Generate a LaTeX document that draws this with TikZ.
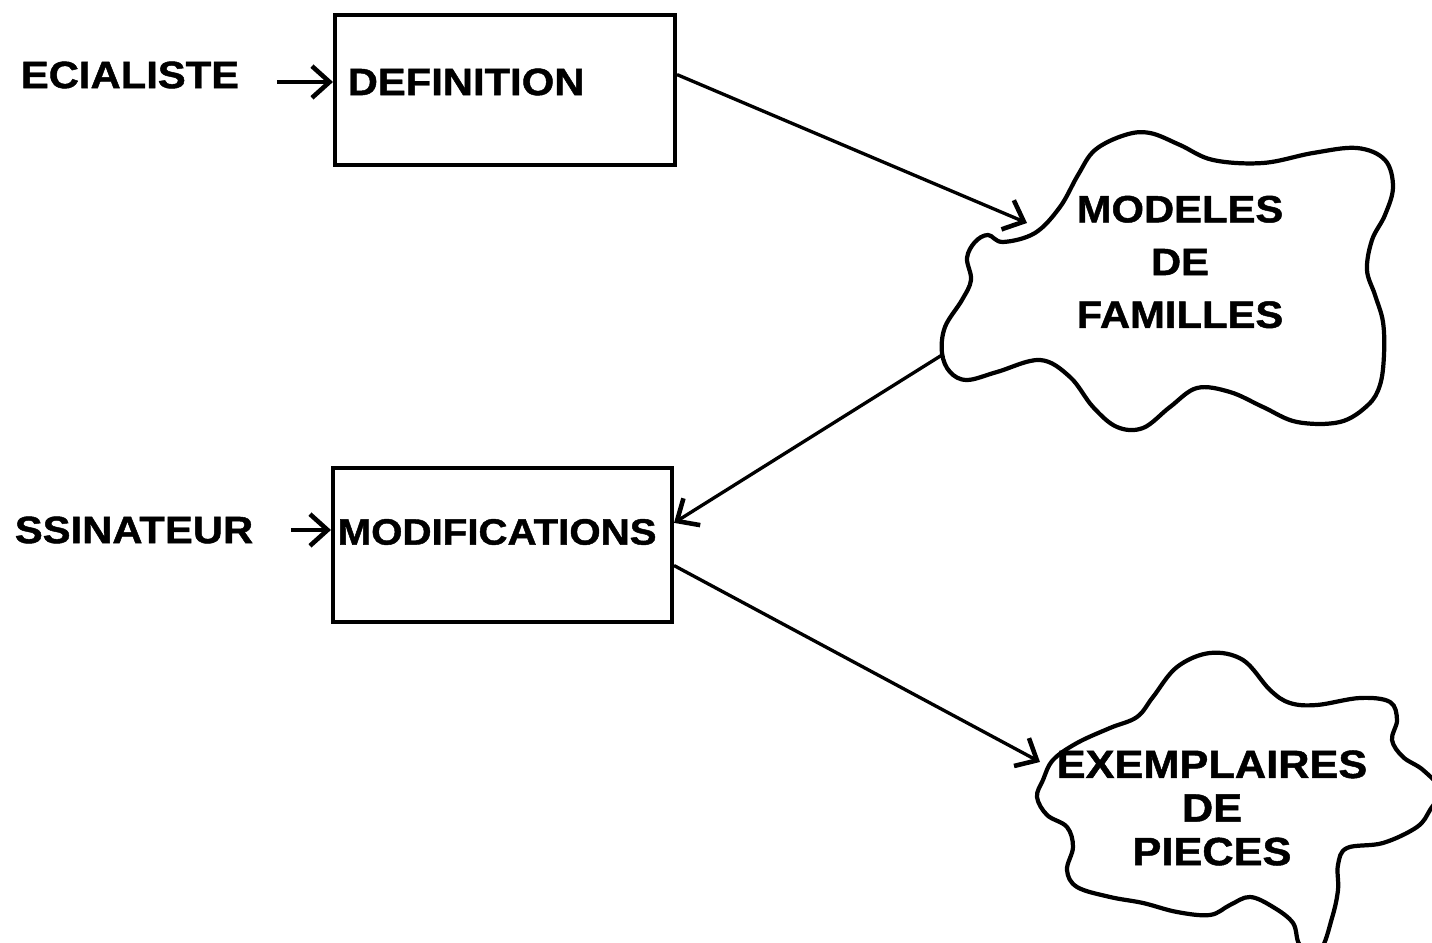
\documentclass[tikz,border=0pt]{standalone}
\usepackage{fontspec}
\setmainfont{Liberation Sans}[FakeStretch=1.1, BoldFeatures={FakeBold=1.2}]
\usetikzlibrary{arrows.meta, positioning, calc}

\begin{document}
\begin{tikzpicture}[
    x=0.01cm, y=-0.01cm,
    box/.style={rectangle, draw=black, line width=1.1pt, minimum width=3.4cm, minimum height=1.5cm},
    word/.style={inner sep=0pt, font=\fontsize{10.8}{12}\selectfont\bfseries},
    blob/.style={line width=1.2pt, line join=round},
    arrow/.style={-{Straight Barb[length=5pt, width=9pt, line width=1.3pt]}, line width=0.95pt}
]
\useasboundingbox (0,0) rectangle (1432,943);
\clip (0,0) rectangle (1432,943);

% boxes
\node[box] (def) at (505,90) {};
\node[box, minimum width=3.39cm, minimum height=1.54cm] (mod) at (502.5,545) {};
\node[word, anchor=west] (deflbl) at (347,82) {DEFINITION};
\node[word, anchor=west, font=\fontsize{10.4}{12}\selectfont\bfseries] (modlbl) at (337,532) {MODIFICATIONS};

% actors
\node[word] (spec) at (130,75) {ECIALISTE};
\node[word] (dess) at (134,530) {SSINATEUR};

% clouds
\draw[blob] plot[smooth cycle, tension=0.6] coordinates {
  (942,353) (945,327) (962,300) (971,280) (967,258) (975,242) (988,235)
  (1003,242) (1035,233) (1060,207) (1078,175) (1095,150) (1125,135)
  (1150,133) (1180,145) (1213,160) (1263,163) (1313,153) (1357,148)
  (1385,160) (1393,187) (1385,215) (1372,240) (1367,270) (1375,295)
  (1383,322) (1384,355) (1380,385) (1368,405) (1340,422) (1297,422)
  (1263,407) (1230,392) (1197,388) (1170,407) (1143,428) (1117,427)
  (1093,407) (1070,377) (1040,360) (997,372) (967,380) (950,372)};
\draw[blob] plot[smooth cycle, tension=0.6] coordinates {
  (1210,653) (1243,660) (1270,690) (1290,703) (1317,705) (1360,698)
  (1390,702) (1397,720) (1392,740) (1403,757) (1423,770) (1440,790)
  (1430,810) (1417,827) (1383,843) (1347,848) (1338,865) (1338,890)
  (1332,918) (1320,950) (1300,945) (1293,923) (1273,907) (1250,897)
  (1230,905) (1210,915) (1177,912) (1143,903) (1110,897) (1077,887)
  (1067,870) (1073,847) (1067,827) (1047,815) (1037,797) (1043,780)
  (1053,760) (1077,743) (1110,728) (1137,717) (1153,697) (1177,667)};
\node[word, align=center, font=\fontsize{10.8}{15}\selectfont\bfseries] (mfam) at (1180,262) {MODELES\\DE\\FAMILLES};
\node[word, align=center, font=\fontsize{11.2}{12.4}\selectfont\bfseries] (expi) at (1212,808) {EXEMPLAIRES\\DE\\PIECES};

\coordinate (spec-out) at ([shift={(37,7)}]spec.east);
\coordinate (dess-out) at ([shift={(37,0)}]dess.east);
\coordinate (mfam-in) at (1027,223);
\coordinate (mfam-out) at (942,355);
\coordinate (expi-in) at (1040,762);

% connectors
\draw[arrow] (spec-out) -- (spec-out -| def.west);
\draw[arrow] (dess-out) -- (dess-out -| mod.west);
\draw[arrow] ($(def.north east)!0.4!(def.south east)$) -- (mfam-in);
\draw[arrow] (mfam-out) -- ($(mod.north east)!0.36!(mod.south east)$);
\draw[arrow] ($(mod.north east)!0.63!(mod.south east)$) -- (expi-in);
\end{tikzpicture}
\end{document}
